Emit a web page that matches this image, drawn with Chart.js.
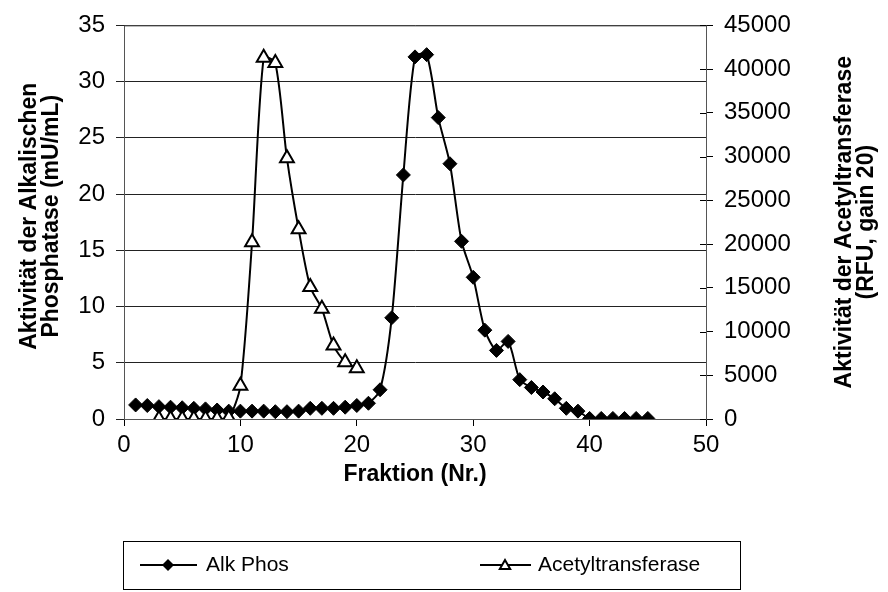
<!DOCTYPE html>
<html>
<head>
<meta charset="utf-8">
<script src="https://cdn.jsdelivr.net/npm/chart.js@4/dist/chart.umd.min.js"></script>
<style>
  html, body { margin: 0; padding: 0; background: #fff; }
  #wrap { width: 888px; height: 592px; }
</style>
</head>
<body>
<div id="wrap"><canvas id="mc" width="888" height="592"></canvas></div>
<script>
// ── Data ─────────────────────────────────────────────────────
const alkFractions = [1, 2, 3, 4, 5, 6, 7, 8, 9, 10, 11, 12, 13, 14, 15,
  16, 17, 18, 19, 20, 21, 22, 23, 24, 25, 26, 27, 28, 29, 30,
  31, 32, 33, 34, 35, 36, 37, 38, 39, 40, 41, 42, 43, 44, 45];
const alkPhos = [1.25, 1.2, 1.1, 1.05, 1.0, 0.95, 0.9, 0.8, 0.7, 0.7, 0.7, 0.7, 0.65, 0.65, 0.7,
  0.95, 0.95, 0.95, 1.05, 1.2, 1.4, 2.6, 9.0, 21.7, 32.2, 32.4, 26.8, 22.7, 15.8, 12.6,
  7.9, 6.1, 6.9, 3.5, 2.8, 2.4, 1.8, 0.95, 0.7, 0.05, 0.05, 0.05, 0.05, 0.05, 0.05];

const acetylFractions = [3, 4, 5, 6, 7, 8, 9, 10, 11, 12, 13, 14, 15, 16, 17, 18, 19, 20];
const acetyl = [0, 0, 0, 0, 0, 0, 100, 3800, 20200, 41300, 40700, 29800, 21700, 15100, 12600, 8400, 6500, 5800];

const xTicks = [0, 10, 20, 30, 40, 50];
const leftTicks = [0, 5, 10, 15, 20, 25, 30, 35];
const rightTicks = [0, 5000, 10000, 15000, 20000, 25000, 30000, 35000, 40000, 45000];

const seriesNames = ['Alk Phos', 'Acetyltransferase'];
const xTitle = 'Fraktion (Nr.)';
const leftTitle = ['Aktivität der Alkalischen', 'Phosphatase (mU/mL)'];
const rightTitle = ['Aktivität der Acetyltransferase', '(RFU, gain 20)'];

// ── Defaults ─────────────────────────────────────────────────
const FONT = '"Liberation Sans", Arial, sans-serif';
Chart.defaults.font.family = FONT;
Chart.defaults.color = '#000';

// ── Helpers ──────────────────────────────────────────────────
function diamond(ctx, x, y, r) {
  ctx.beginPath();
  ctx.moveTo(x, y - r);
  ctx.lineTo(x + r, y);
  ctx.lineTo(x, y + r);
  ctx.lineTo(x - r, y);
  ctx.closePath();
  ctx.fillStyle = '#000';
  ctx.fill();
}

function triangle(ctx, x, y, r) {
  ctx.beginPath();
  ctx.moveTo(x, y - r);
  ctx.lineTo(x + r * 0.866, y + r * 0.5);
  ctx.lineTo(x - r * 0.866, y + r * 0.5);
  ctx.closePath();
  ctx.fillStyle = '#fff';
  ctx.fill();
  ctx.lineWidth = 2;
  ctx.strokeStyle = '#000';
  ctx.stroke();
}

function rotText(ctx, lines, x0, dx, y) {
  ctx.save();
  ctx.font = 'bold 23px ' + FONT;
  ctx.fillStyle = '#000';
  ctx.textAlign = 'center';
  ctx.textBaseline = 'middle';
  lines.forEach((t, i) => {
    ctx.save();
    ctx.translate(x0 + i * dx, y);
    ctx.rotate(-Math.PI / 2);
    ctx.fillText(t, 0, 0);
    ctx.restore();
  });
  ctx.restore();
}

// ── Extras: frame, cross ticks, titles, legend ──────────────
const extras = {
  id: 'extras',
  beforeDatasetsDraw(chart) {
    const { ctx, chartArea: a } = chart;
    ctx.save();
    ctx.strokeStyle = '#555';
    ctx.lineWidth = 1;
    ctx.strokeRect(a.left + 0.5, a.top + 0.5, a.right - a.left, a.bottom - a.top);
    // inner half of the right axis ticks
    const y1 = chart.scales.y1;
    ctx.strokeStyle = '#000';
    ctx.beginPath();
    rightTicks.forEach(v => {
      const py = Math.round(y1.getPixelForValue(v)) + 0.5;
      ctx.moveTo(a.right - 6, py);
      ctx.lineTo(a.right, py);
    });
    ctx.stroke();
    ctx.restore();
  },
  afterDraw(chart) {
    const { ctx, chartArea: a } = chart;
    const midY = (a.top + a.bottom) / 2;

    rotText(ctx, leftTitle, 30, 22, midY - 6);
    rotText(ctx, rightTitle, 845, 22, midY);

    ctx.save();
    ctx.font = 'bold 23px ' + FONT;
    ctx.fillStyle = '#000';
    ctx.textAlign = 'center';
    ctx.textBaseline = 'middle';
    ctx.fillText(xTitle, (a.left + a.right) / 2, 475);

    // legend box
    ctx.strokeStyle = '#000';
    ctx.lineWidth = 1;
    ctx.strokeRect(123.5, 541.5, 617, 48);
    const ly = 565;
    ctx.lineWidth = 2;
    ctx.beginPath();
    ctx.moveTo(140, ly); ctx.lineTo(197, ly);
    ctx.moveTo(480, ly); ctx.lineTo(531, ly);
    ctx.stroke();
    diamond(ctx, 168, ly, 6);
    triangle(ctx, 505, ly + 1, 6);
    ctx.font = '21px ' + FONT;
    ctx.fillStyle = '#000';
    ctx.textAlign = 'left';
    ctx.fillText(seriesNames[0], 206, ly);
    ctx.fillText(seriesNames[1], 538, ly);
    ctx.restore();
  }
};

// ── Chart ────────────────────────────────────────────────────
const ctx = document.getElementById('mc');

new Chart(ctx, {
  type: 'line',
  data: {
    datasets: [{
      label: seriesNames[0],
      data: alkFractions.map((f, i) => ({ x: f, y: alkPhos[i] })),
      yAxisID: 'y',
      borderColor: '#000',
      borderWidth: 2,
      pointStyle: 'rectRot',
      pointRadius: 7,
      pointBackgroundColor: '#000',
      pointBorderColor: '#000',
      pointBorderWidth: 1,
      tension: 0.25,
      order: 2
    }, {
      label: seriesNames[1],
      data: acetylFractions.map((f, i) => ({ x: f, y: acetyl[i] })),
      yAxisID: 'y1',
      borderColor: '#000',
      borderWidth: 2,
      pointStyle: 'triangle',
      pointRadius: 8,
      pointBackgroundColor: '#fff',
      pointBorderColor: '#000',
      pointBorderWidth: 2,
      tension: 0.25,
      order: 1
    }]
  },
  options: {
    responsive: false,
    animation: false,
    layout: { padding: { top: 22, left: 0, right: 0, bottom: 0 } },
    plugins: {
      legend: { display: false },
      tooltip: { enabled: false }
    },
    scales: {
      x: {
        type: 'linear',
        min: 0, max: 50,
        afterBuildTicks: s => { s.ticks = xTicks.map(v => ({ value: v })); },
        afterFit: s => { s.height = 173; },
        ticks: { font: { size: 24 }, padding: 5, maxRotation: 0 },
        grid: { drawOnChartArea: false, tickLength: 7, color: '#000' },
        border: { color: '#000', width: 1 }
      },
      y: {
        position: 'left',
        min: 0, max: 35,
        afterBuildTicks: s => { s.ticks = leftTicks.map(v => ({ value: v })); },
        afterFit: s => { s.width = 124; },
        ticks: { font: { size: 24 }, padding: 11 },
        grid: { color: '#222', tickLength: 8 },
        border: { color: '#000', width: 1 }
      },
      y1: {
        position: 'right',
        min: 0, max: 45000,
        afterBuildTicks: s => { s.ticks = rightTicks.map(v => ({ value: v })); },
        afterFit: s => { s.width = 182; },
        ticks: { font: { size: 24 }, padding: 11, callback: v => String(v) },
        grid: { drawOnChartArea: false, tickLength: 7, color: '#000' },
        border: { color: '#000', width: 1 }
      }
    }
  },
  plugins: [extras]
});
</script>
</body>
</html>
